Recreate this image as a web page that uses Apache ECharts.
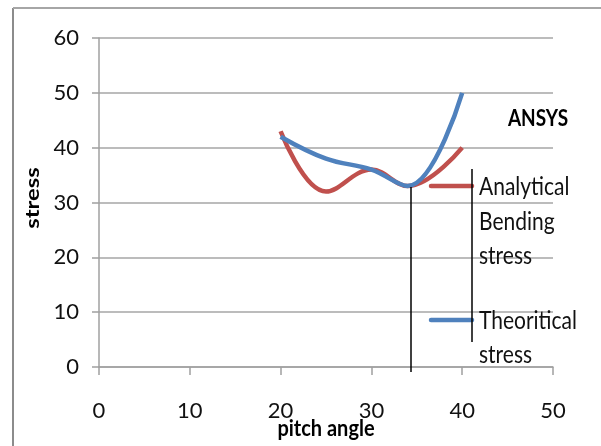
<!DOCTYPE html>
<html><head><meta charset="utf-8">
<script src="https://cdn.jsdelivr.net/npm/echarts@6/dist/echarts.min.js"></script>
<style>html,body{margin:0;padding:0;background:#fff}#c{width:601px;height:446px}</style>
</head><body><div id="c"></div>
<script>
var pitchAngles = [20, 25, 30, 34, 40];
var analyticalStress = [43, 32, 36, 33, 40];
var theoriticalStress = [42, 38, 36, 33, 50];
var xTicks = [0, 10, 20, 30, 40, 50];
var yTicks = [0, 10, 20, 30, 40, 50, 60];

var FONT = 'Lato';
function pairs(xs, ys){ return xs.map(function(x,i){ return [x, ys[i]]; }); }

var chart = echarts.init(document.getElementById('c'), null, {renderer:'canvas'});
chart.setOption({
  animation:false,
  backgroundColor:'#fff',
  grid:{left:99, right:48, top:38, bottom:79},
  xAxis:{type:'value', min:xTicks[0], max:xTicks[xTicks.length-1], interval:10,
    axisLine:{show:true, onZero:false, lineStyle:{color:'#a0a0a0', width:1.5}},
    axisTick:{show:true, length:8, lineStyle:{color:'#a0a0a0', width:1.5}},
    axisLabel:{margin:33, fontFamily:FONT, fontSize:22, color:'#111'},
    splitLine:{show:false}},
  yAxis:{type:'value', min:yTicks[0], max:yTicks[yTicks.length-1], interval:10,
    axisLine:{show:true, lineStyle:{color:'#a0a0a0', width:1.5}},
    axisTick:{show:true, length:7, lineStyle:{color:'#a0a0a0', width:1.5}},
    axisLabel:{margin:20, fontFamily:FONT, fontSize:22, color:'#111'},
    splitLine:{show:true, lineStyle:{color:'#a6a6a6', width:1.5}}},
  series:[
    {name:'Analytical Bending stress', type:'line', smooth:0.4, symbol:'none',
     data:pairs(pitchAngles, analyticalStress), lineStyle:{color:'#C0504D', width:4.5}, z:3},
    {name:'Theoritical stress', type:'line', smooth:0.4, symbol:'none',
     data:pairs(pitchAngles, theoriticalStress), lineStyle:{color:'#4F81BD', width:4.5}, z:4}
  ],
  graphic:[
    {type:'line', shape:{x1:13,y1:8,x2:13,y2:446}, style:{stroke:'#8c8c8c', lineWidth:2}},
    {type:'line', shape:{x1:13,y1:8,x2:601,y2:8}, style:{stroke:'#a6a6a6', lineWidth:2}},
    {type:'line', shape:{x1:411,y1:187,x2:411,y2:372}, style:{stroke:'#000', lineWidth:1.5}, z:10},
    {type:'line', shape:{x1:472,y1:169,x2:472,y2:342}, style:{stroke:'#000', lineWidth:1.5}, z:10},
    {type:'line', shape:{x1:431,y1:186,x2:472,y2:186}, style:{stroke:'#C0504D', lineWidth:4.5, lineCap:'round'}, z:9},
    {type:'line', shape:{x1:431,y1:320,x2:472,y2:320}, style:{stroke:'#4F81BD', lineWidth:4.5, lineCap:'round'}, z:9},
    {type:'text', x:479, y:187, scaleY:1.15, style:{text:'Analytical', font:'21px Lato', fill:'#111', textVerticalAlign:'middle'}, z:11},
    {type:'text', x:479, y:222, scaleY:1.15, style:{text:'Bending', font:'21px Lato', fill:'#111', textVerticalAlign:'middle'}, z:11},
    {type:'text', x:479, y:256, scaleY:1.15, style:{text:'stress', font:'21px Lato', fill:'#111', textVerticalAlign:'middle'}, z:11},
    {type:'text', x:479, y:321, scaleY:1.15, style:{text:'Theoritical', font:'21px Lato', fill:'#111', textVerticalAlign:'middle'}, z:11},
    {type:'text', x:479, y:355, scaleY:1.15, style:{text:'stress', font:'21px Lato', fill:'#111', textVerticalAlign:'middle'}, z:11},
    {type:'text', x:538, y:119, scaleY:1.15, style:{text:'ANSYS', font:'bold 19px Lato', fill:'#000', textAlign:'center', textVerticalAlign:'middle'}, z:11},
    {type:'text', x:326, y:429, scaleY:1.15, style:{text:'pitch angle', font:'bold 20px Lato', fill:'#000', textAlign:'center', textVerticalAlign:'middle'}, z:11},
    {type:'text', x:33, y:198, rotation:Math.PI/2, scaleX:1.25, style:{text:'stress', font:'bold 19px Lato', fill:'#000', textAlign:'center', textVerticalAlign:'middle'}, z:11}
  ]
});
</script></body></html>
